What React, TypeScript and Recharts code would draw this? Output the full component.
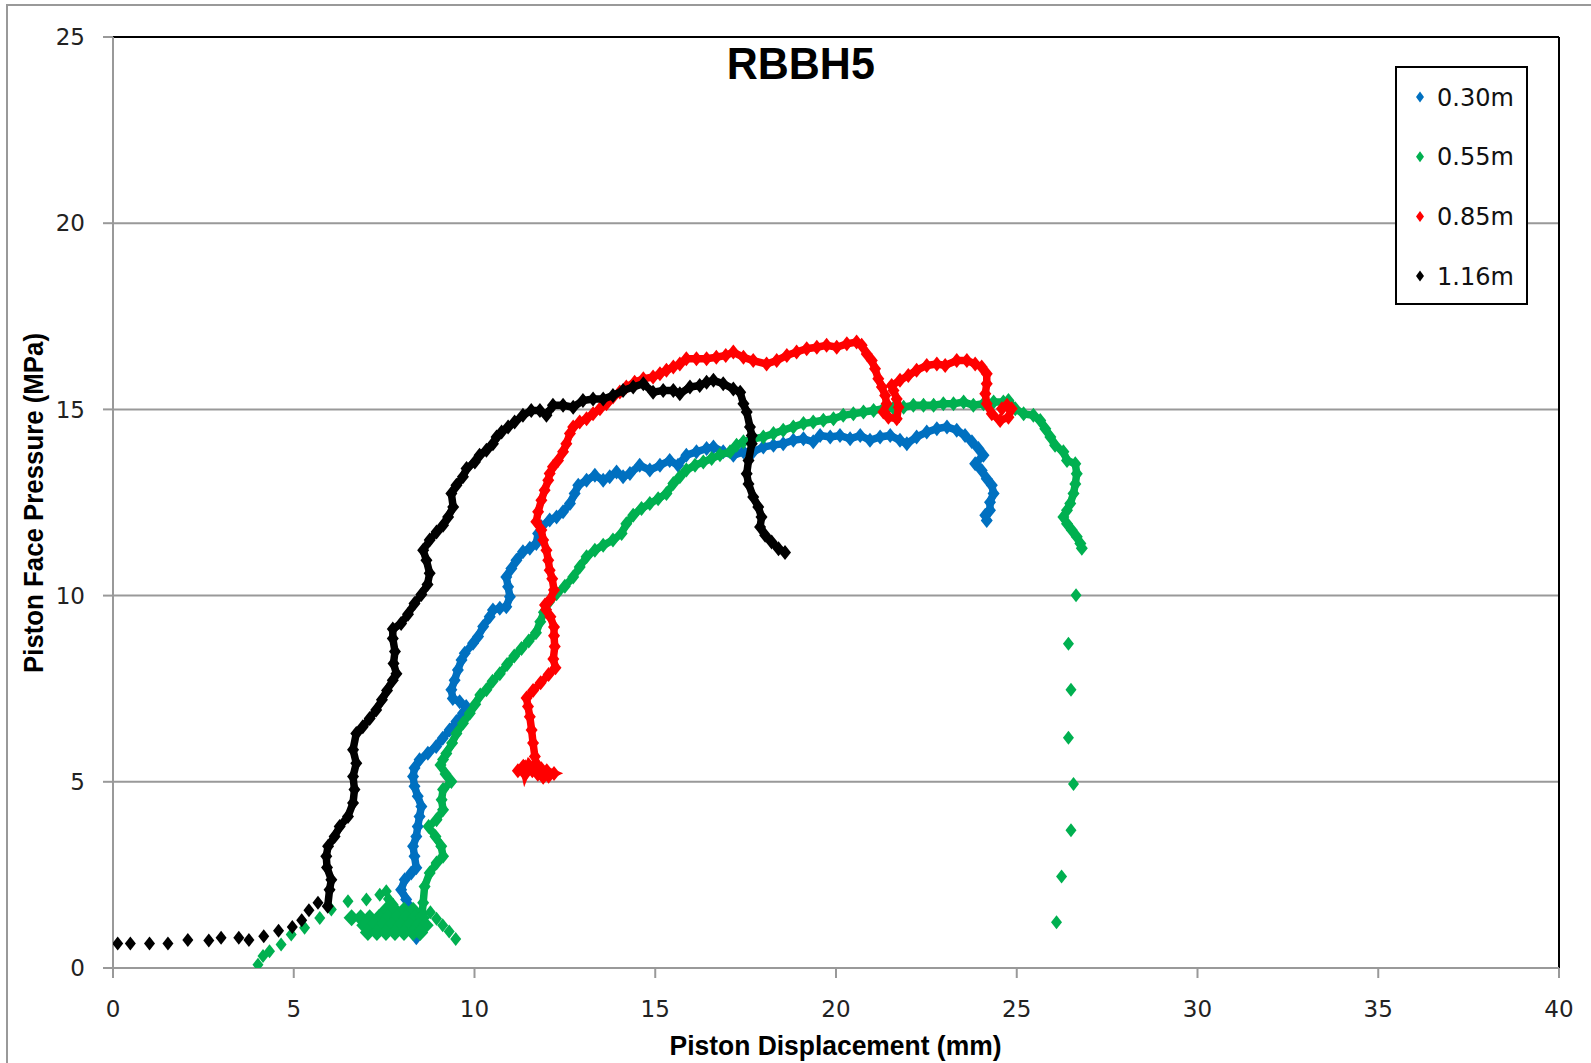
import React from 'react';
import { ScatterChart, Scatter, XAxis, YAxis, CartesianGrid, ReferenceLine, Legend } from 'recharts';

type P = [number, number];

const chartTitle = 'RBBH5';
const xTitle = 'Piston Displacement (mm)';
const yTitle = 'Piston Face Pressure (MPa)';
const xTicks = [0, 5, 10, 15, 20, 25, 30, 35, 40];
const yTicks = [0, 5, 10, 15, 20, 25];
const seriesNames = ['0.30m', '0.55m', '0.85m', '1.16m'];
const seriesColors = ['#0070C0', '#00B050', '#FF0000', '#000000'];

// 0.30m
const blue030: P[] = [
  [8.39, 0.81], [8.34, 1.21], [8.25, 1.57], [8.11, 1.84], [7.97, 2.1], [8.07, 2.37], [8.25, 2.55], [8.39, 2.69],
  [8.34, 3.0], [8.3, 3.27], [8.39, 3.53], [8.43, 3.8], [8.48, 4.07], [8.53, 4.34], [8.43, 4.61], [8.34, 4.88],
  [8.3, 5.14], [8.34, 5.37], [8.48, 5.59], [8.71, 5.77], [8.94, 5.95], [9.12, 6.17], [9.31, 6.39], [9.5, 6.62],
  [9.68, 6.84], [9.77, 7.02], [9.59, 7.15], [9.4, 7.24], [9.36, 7.47], [9.45, 7.73], [9.54, 8.0], [9.64, 8.27],
  [9.73, 8.45], [9.96, 8.72], [10.1, 8.9], [10.24, 9.17], [10.42, 9.43], [10.51, 9.61], [10.7, 9.66], [10.88, 9.7],
  [10.98, 9.97], [10.93, 10.24], [10.88, 10.5], [11.02, 10.73], [11.16, 10.95], [11.34, 11.18], [11.53, 11.27],
  [11.71, 11.4], [11.76, 11.67], [11.85, 11.85], [12.08, 12.03], [12.27, 12.11], [12.45, 12.25], [12.64, 12.47],
  [12.77, 12.74], [12.87, 12.96], [13.1, 13.1], [13.33, 13.23], [13.56, 13.1], [13.74, 13.19], [13.93, 13.32],
  [14.11, 13.19], [14.3, 13.28], [14.57, 13.5], [14.85, 13.37], [15.13, 13.5], [15.4, 13.63], [15.63, 13.5],
  [15.86, 13.77], [16.14, 13.86], [16.42, 13.95], [16.61, 13.99], [16.88, 13.86], [17.16, 13.77], [17.44, 13.86],
  [17.71, 13.86], [17.99, 13.99], [18.27, 14.04], [18.54, 14.08], [18.82, 14.17], [19.1, 14.21], [19.37, 14.13],
  [19.56, 14.3], [19.84, 14.26], [20.11, 14.3], [20.39, 14.21], [20.67, 14.3], [20.94, 14.17], [21.22, 14.26],
  [21.5, 14.3], [21.77, 14.17], [21.96, 14.08], [22.23, 14.26], [22.51, 14.39], [22.79, 14.48], [23.07, 14.53],
  [23.34, 14.44], [23.57, 14.3], [23.76, 14.13], [23.94, 13.95], [24.08, 13.77], [23.85, 13.54], [24.03, 13.36],
  [24.17, 13.14], [24.31, 12.96], [24.36, 12.74], [24.26, 12.51], [24.26, 12.29], [24.13, 12.16], [24.17, 12.02],
];

// 0.55m
const green055Start: P[] = [
  [4.01, 0.09], [4.15, 0.32], [4.33, 0.45], [4.65, 0.63], [4.93, 0.9], [5.3, 1.08], [5.72, 1.34], [6.04, 1.57],
  [6.5, 1.79], [7.01, 1.84], [7.38, 1.97], [7.56, 2.06], [7.62, 1.85], [7.75, 1.7],
];
const green055Cluster: P[] = [
  [7.55, 1.55], [7.8, 1.55], [8.05, 1.55], [8.3, 1.55],
  [6.6, 1.35], [6.85, 1.35], [7.1, 1.35], [7.35, 1.35], [7.6, 1.35], [7.85, 1.35], [8.1, 1.35], [8.35, 1.35], [8.55, 1.35],
  [6.95, 1.15], [7.2, 1.15], [7.45, 1.15], [7.7, 1.15], [7.95, 1.15], [8.2, 1.15], [8.45, 1.15], [8.65, 1.15],
  [7.05, 0.95], [7.3, 0.95], [7.55, 0.95], [7.8, 0.95], [8.05, 0.95], [8.3, 0.95], [8.5, 0.95],
];
const green055Drop: P[] = [
  [8.78, 1.5], [8.95, 1.32], [9.12, 1.15], [9.3, 0.98], [9.48, 0.78],
];
const green055Main: P[] = [
  [8.55, 1.45], [8.58, 1.75], [8.62, 2.19], [8.76, 2.55], [8.95, 2.82], [9.13, 3.0], [9.08, 3.27], [8.92, 3.53],
  [8.73, 3.8], [8.95, 3.98], [9.13, 4.25], [9.09, 4.52], [9.13, 4.79], [9.36, 5.01], [9.2, 5.21], [9.06, 5.45],
  [9.13, 5.6], [9.22, 5.76], [9.38, 6.04], [9.5, 6.3], [9.68, 6.57], [9.87, 6.84], [10.02, 7.08], [10.16, 7.33],
  [10.33, 7.47], [10.5, 7.7], [10.7, 7.9], [10.9, 8.15], [11.1, 8.38], [11.3, 8.58], [11.5, 8.78], [11.7, 9.0],
  [11.82, 9.3], [11.92, 9.55], [12.06, 9.83], [12.27, 10.05], [12.5, 10.25], [12.73, 10.5], [12.91, 10.77],
  [13.1, 11.04], [13.33, 11.22], [13.56, 11.35], [13.83, 11.49], [14.07, 11.67], [14.2, 11.93], [14.39, 12.16],
  [14.62, 12.34], [14.85, 12.47], [15.08, 12.6], [15.31, 12.74], [15.5, 13.01], [15.68, 13.19], [15.86, 13.37],
  [16.1, 13.5], [16.33, 13.59], [16.56, 13.68], [16.79, 13.78], [17.07, 13.86], [17.25, 14.04], [17.44, 14.13],
  [17.71, 14.21], [17.99, 14.26], [18.27, 14.35], [18.54, 14.44], [18.82, 14.53], [19.1, 14.62], [19.37, 14.66],
  [19.65, 14.71], [19.93, 14.75], [20.2, 14.84], [20.48, 14.88], [20.76, 14.93], [21.04, 14.97], [21.31, 15.02],
  [21.59, 15.04], [21.87, 15.06], [22.14, 15.11], [22.42, 15.11], [22.7, 15.11], [22.97, 15.15], [23.25, 15.15],
  [23.53, 15.2], [23.8, 15.11], [24.08, 15.15], [24.36, 15.2], [24.63, 15.2], [24.77, 15.24], [24.96, 15.02],
  [25.19, 14.88], [25.46, 14.84], [25.65, 14.7], [25.79, 14.48], [25.93, 14.26], [26.06, 14.04], [26.29, 13.86],
  [26.39, 13.63], [26.62, 13.54], [26.66, 13.27], [26.62, 13.0], [26.57, 12.74], [26.48, 12.47], [26.39, 12.29],
  [26.29, 12.11], [26.39, 11.93], [26.52, 11.76], [26.66, 11.58], [26.76, 11.4], [26.8, 11.27],
];
const green055Tail: P[] = [
  [26.64, 10.01], [26.43, 8.71], [26.5, 7.47], [26.43, 6.18], [26.57, 4.94], [26.5, 3.7], [26.24, 2.46], [26.1, 1.23],
];

// 0.85m
const red085: P[] = [
  [11.2, 5.3], [11.35, 5.42], [11.4, 5.2], [11.5, 5.45], [11.6, 5.3], [11.75, 5.2], [11.9, 5.12], [12.05, 5.15],
  [12.2, 5.22], [12.0, 5.3], [11.85, 5.35], [11.7, 5.5], [11.67, 5.68], [11.62, 6.04], [11.58, 6.39], [11.53, 6.75],
  [11.48, 7.02], [11.44, 7.25], [11.62, 7.45], [11.83, 7.66], [12.05, 7.88], [12.24, 8.06], [12.18, 8.3],
  [12.22, 8.63], [12.2, 8.92], [12.2, 9.16], [12.1, 9.43], [11.98, 9.62], [11.95, 9.75], [12.1, 9.9], [12.2, 10.15],
  [12.15, 10.45], [12.08, 10.68], [12.04, 10.95], [11.99, 11.22], [11.9, 11.49], [11.85, 11.76], [11.71, 11.98],
  [11.76, 12.25], [11.85, 12.56], [11.94, 12.83], [12.04, 13.1], [12.08, 13.28], [12.17, 13.46], [12.31, 13.63],
  [12.45, 13.86], [12.54, 14.08], [12.64, 14.35], [12.73, 14.53], [12.91, 14.66], [13.1, 14.75], [13.28, 14.88],
  [13.47, 15.02], [13.65, 15.15], [13.83, 15.33], [14.02, 15.47], [14.2, 15.6], [14.43, 15.73], [14.67, 15.82],
  [14.94, 15.87], [15.13, 15.96], [15.31, 16.05], [15.5, 16.14], [15.68, 16.22], [15.86, 16.36], [16.14, 16.36],
  [16.42, 16.36], [16.69, 16.4], [16.95, 16.45], [17.16, 16.54], [17.44, 16.4], [17.71, 16.31], [18.08, 16.22],
  [18.36, 16.31], [18.64, 16.45], [18.91, 16.54], [19.19, 16.63], [19.47, 16.67], [19.74, 16.72], [20.02, 16.67],
  [20.3, 16.76], [20.57, 16.81], [20.71, 16.72], [20.85, 16.49], [20.99, 16.31], [21.08, 16.09], [21.17, 15.82],
  [21.27, 15.6], [21.36, 15.37], [21.4, 15.15], [21.31, 14.93], [21.45, 14.79], [21.68, 14.75], [21.73, 15.06],
  [21.68, 15.28], [21.59, 15.51], [21.54, 15.64], [21.77, 15.78], [22.0, 15.91], [22.23, 16.05], [22.51, 16.18],
  [22.79, 16.22], [23.02, 16.18], [23.34, 16.31], [23.62, 16.31], [23.85, 16.22], [24.03, 16.14], [24.17, 15.96],
  [24.17, 15.69], [24.13, 15.42], [24.17, 15.15], [24.31, 14.88], [24.54, 14.7], [24.77, 14.79], [24.86, 15.02],
  [24.73, 15.11], [24.59, 15.02],
];

// 1.16m
const black116Start: P[] = [
  [0.13, 0.66], [0.48, 0.66], [1.01, 0.66], [1.52, 0.66], [2.07, 0.75], [2.65, 0.74], [2.99, 0.81], [3.48, 0.81],
  [3.76, 0.75], [4.17, 0.85], [4.58, 1.0], [4.96, 1.1], [5.22, 1.28], [5.42, 1.55], [5.67, 1.75],
];
const black116Main: P[] = [
  [5.94, 1.66], [5.99, 2.1], [6.04, 2.37], [5.92, 2.7], [5.9, 3.0], [5.95, 3.27], [6.13, 3.53], [6.27, 3.8],
  [6.5, 4.07], [6.64, 4.43], [6.68, 4.79], [6.64, 5.14], [6.73, 5.5], [6.64, 5.86], [6.73, 6.3], [6.91, 6.48],
  [7.1, 6.7], [7.28, 6.93], [7.44, 7.2], [7.58, 7.45], [7.74, 7.73], [7.84, 7.9], [7.76, 8.18], [7.8, 8.5],
  [7.74, 8.85], [7.74, 9.1], [7.97, 9.25], [8.16, 9.5], [8.34, 9.79], [8.53, 10.03], [8.7, 10.3], [8.76, 10.6],
  [8.67, 10.95], [8.58, 11.22], [8.76, 11.49], [8.95, 11.71], [9.13, 11.89], [9.27, 12.11], [9.41, 12.38],
  [9.36, 12.74], [9.5, 12.96], [9.68, 13.19], [9.78, 13.41], [10.01, 13.59], [10.14, 13.77], [10.33, 13.9],
  [10.51, 14.08], [10.61, 14.26], [10.75, 14.39], [10.93, 14.53], [11.11, 14.66], [11.34, 14.84], [11.57, 14.97],
  [11.81, 14.97], [11.99, 14.84], [12.17, 15.11], [12.45, 15.11], [12.73, 15.06], [13.0, 15.24], [13.28, 15.28],
  [13.56, 15.28], [13.83, 15.37], [14.11, 15.51], [14.39, 15.6], [14.67, 15.69], [14.94, 15.46], [15.22, 15.51],
  [15.5, 15.51], [15.68, 15.42], [15.96, 15.6], [16.23, 15.64], [16.42, 15.73], [16.61, 15.78], [16.88, 15.69],
  [17.16, 15.55], [17.35, 15.46], [17.44, 15.15], [17.53, 14.93], [17.62, 14.53], [17.67, 14.3], [17.67, 14.08],
  [17.58, 13.63], [17.53, 13.27], [17.58, 13.0], [17.71, 12.65], [17.85, 12.38], [17.94, 12.11], [17.9, 11.84],
  [18.04, 11.62], [18.22, 11.44], [18.41, 11.26], [18.59, 11.16],
];

const toPts = (a: P[]) => a.map(([x, y]) => ({ x, y }));

const diamond = (color: string, hw = 6, hh = 7.5) => (props: any) => {
  const { cx, cy } = props;
  if (cx == null || cy == null) return <g />;
  return (
    <path
      d={`M${cx},${cy - hh}L${cx + hw},${cy}L${cx},${cy + hh}L${cx - hw},${cy}Z`}
      fill={color}
      stroke="none"
    />
  );
};

const LegendBox = () => (
  <svg width={133} height={239} style={{ display: 'block' }}>
    <rect x={1} y={1} width={131} height={237} fill="#fff" stroke="#000" strokeWidth={2} />
    {seriesNames.map((n, i) => {
      const cy = 31 + i * 59.7;
      return (
        <g key={n}>
          <path d={`M25,${cy - 5.5}L29,${cy}L25,${cy + 5.5}L21,${cy}Z`} fill={seriesColors[i]} />
          <text x={42} y={cy + 8.5} fontFamily="DejaVu Sans" fontSize={24} fill="#111">
            {n}
          </text>
        </g>
      );
    })}
  </svg>
);

const axisStroke = '#999999';
const tickStyle = { fill: '#222', fontSize: 23, fontFamily: 'DejaVu Sans' };
const bandWidth = 7.5;

export default function App() {
  const [cb, cg, cr, ck] = seriesColors;
  return (
    <div style={{ position: 'absolute', left: 0, top: 0, width: 1591, height: 1063, overflow: 'hidden', background: '#fff' }}>
      <div style={{ position: 'absolute', left: 6, top: 4, width: 1700, height: 1200, border: '2px solid #999' }} />
      <div style={{ position: 'absolute', left: 0, top: 0 }}>
        <ScatterChart width={1591} height={1063} margin={{ top: 37, right: 32, bottom: 0, left: 0 }}>
          <CartesianGrid horizontal vertical={false} stroke={axisStroke} strokeWidth={2} />
          <XAxis
            type="number"
            dataKey="x"
            domain={[0, 40]}
            ticks={xTicks}
            interval={0}
            height={95}
            tickSize={10}
            tickMargin={23}
            axisLine={{ stroke: axisStroke, strokeWidth: 2 }}
            tickLine={{ stroke: axisStroke, strokeWidth: 2 }}
            tick={tickStyle}
            allowDataOverflow
          />
          <YAxis
            type="number"
            dataKey="y"
            domain={[0, 25]}
            ticks={yTicks}
            interval={0}
            width={113}
            tickSize={10}
            tickMargin={18}
            axisLine={{ stroke: axisStroke, strokeWidth: 2 }}
            tickLine={{ stroke: axisStroke, strokeWidth: 2 }}
            tick={tickStyle}
            allowDataOverflow
          />
          <ReferenceLine y={25} stroke="#000" strokeWidth={2} />
          <ReferenceLine x={40} stroke="#000" strokeWidth={2} />
          <Scatter name={seriesNames[0]} data={toPts(blue030)} shape={diamond(cb)} line={{ stroke: cb, strokeWidth: bandWidth }} isAnimationActive={false} />
          <Scatter name={seriesNames[1]} data={toPts(green055Main)} shape={diamond(cg)} line={{ stroke: cg, strokeWidth: bandWidth }} isAnimationActive={false} />
          <Scatter data={toPts(green055Start)} shape={diamond(cg, 5.5, 7)} isAnimationActive={false} legendType="none" />
          <Scatter data={toPts(green055Cluster)} shape={diamond(cg, 8, 8.5)} isAnimationActive={false} legendType="none" />
          <Scatter data={toPts(green055Drop)} shape={diamond(cg, 5.5, 7)} isAnimationActive={false} legendType="none" />
          <Scatter data={toPts(green055Tail)} shape={diamond(cg, 5.5, 7)} isAnimationActive={false} legendType="none" />
          <Scatter name={seriesNames[2]} data={toPts(red085)} shape={diamond(cr)} line={{ stroke: cr, strokeWidth: bandWidth }} isAnimationActive={false} />
          <Scatter data={toPts(black116Start)} shape={diamond(ck, 5.5, 7)} isAnimationActive={false} legendType="none" />
          <Scatter name={seriesNames[3]} data={toPts(black116Main)} shape={diamond(ck)} line={{ stroke: ck, strokeWidth: bandWidth }} isAnimationActive={false} />
          <Legend
            layout="horizontal"
            verticalAlign="middle"
            align="center"
            content={() => <LegendBox />}
            wrapperStyle={{ left: 1395, top: 66, width: 133, height: 239 }}
          />
        </ScatterChart>
      </div>
      <svg width={1591} height={1063} style={{ position: 'absolute', left: 0, top: 0, pointerEvents: 'none' }}>
        <text x={800.8} y={79.3} textAnchor="middle" fontFamily="Liberation Sans" fontWeight="bold" fontSize={45} textLength={148} lengthAdjust="spacingAndGlyphs" fill="#000">
          {chartTitle}
        </text>
        <text x={835.5} y={1055} textAnchor="middle" fontFamily="Liberation Sans" fontWeight="bold" fontSize={27} textLength={332} lengthAdjust="spacingAndGlyphs" fill="#000">
          {xTitle}
        </text>
        <text transform="translate(42.5,503) rotate(-90)" textAnchor="middle" fontFamily="Liberation Sans" fontWeight="bold" fontSize={28} textLength={340} lengthAdjust="spacingAndGlyphs" fill="#000">
          {yTitle}
        </text>
      </svg>
    </div>
  );
}
